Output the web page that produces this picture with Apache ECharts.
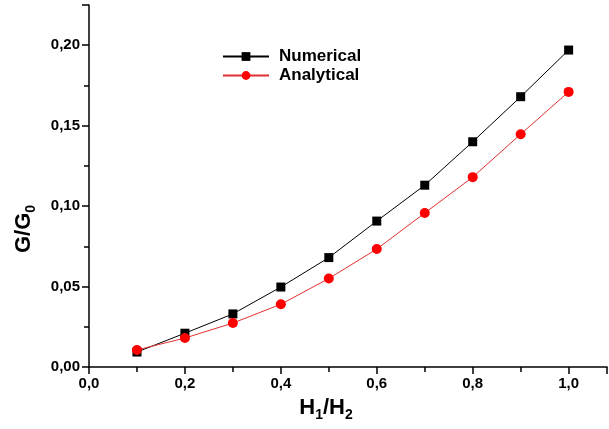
<!DOCTYPE html>
<html><head><meta charset="utf-8">
<script src="https://cdn.jsdelivr.net/npm/echarts@6/dist/echarts.min.js"></script>
<style>html,body{margin:0;padding:0;background:#fff}#c{width:609px;height:429px}</style>
</head><body><div id="c"></div>
<script>
const xValues = [0.1,0.2,0.3,0.4,0.5,0.6,0.7,0.8,0.9,1.0];
const numerical = [0.0093,0.021,0.033,0.0497,0.068,0.0907,0.113,0.140,0.168,0.197];
const analytical = [0.0106,0.018,0.0273,0.039,0.055,0.0733,0.0957,0.118,0.1447,0.171];
const fmt = (d)=> v => v.toFixed(d).replace('.', ',');
const chart = echarts.init(document.getElementById('c'), null, {renderer:'canvas'});
const font = 'Arial, "Liberation Sans", sans-serif';
chart.setOption({
  animation:false,
  backgroundColor:'#fff',
  grid:{left:89,right:2,top:5,bottom:62,containLabel:false,outerBoundsMode:'none'},
  legend:{
    orient:'vertical', left:217, top:43, itemWidth:46, itemHeight:11, itemGap:2,
    textStyle:{fontFamily:font,fontWeight:'bold',fontSize:17,color:'#000',padding:[0,0,0,5]},
    data:['Numerical','Analytical']
  },
  xAxis:{
    type:'value',min:0,max:1.08,interval:0.2,
    axisLine:{lineStyle:{color:'#000',width:1.5}},
    axisTick:{inside:false,length:7,lineStyle:{color:'#000',width:1.5}},
    minorTick:{show:true,splitNumber:2,length:5,lineStyle:{color:'#000',width:1.5}},
    splitLine:{show:false},
    axisLabel:{formatter:v=> v>1.001?'':fmt(1)(v),fontFamily:font,fontWeight:'bold',fontSize:15,color:'#000',margin:9,showMaxLabel:false},
    name:'{m|H}{s|1}{m|/H}{s|2}',nameLocation:'middle',nameGap:27,
    nameTextStyle:{padding:[0,44,0,0],rich:{m:{fontFamily:font,fontWeight:'bold',fontSize:22,color:'#000'},s:{fontFamily:font,fontWeight:'bold',fontSize:14,color:'#000',padding:[14,0,0,0]}}}
  },
  yAxis:{
    type:'value',min:0,max:0.225,interval:0.05,
    axisLine:{lineStyle:{color:'#000',width:1.5}},
    axisTick:{inside:false,length:7,lineStyle:{color:'#000',width:1.5}},
    minorTick:{show:true,splitNumber:2,length:5,lineStyle:{color:'#000',width:1.5}},
    splitLine:{show:false},
    axisLabel:{formatter:v=> v>0.2001?'':fmt(2)(v),fontFamily:font,fontWeight:'bold',fontSize:15,color:'#000',margin:9,showMaxLabel:false},
    name:'{m|G/G}{s|0}',nameLocation:'middle',nameGap:51,nameRotate:90,
    nameTextStyle:{padding:[0,86,0,0],rich:{m:{fontFamily:font,fontWeight:'bold',fontSize:22,color:'#000'},s:{fontFamily:font,fontWeight:'bold',fontSize:14,color:'#000',padding:[14,0,0,0]}}}
  },
  series:[
    {name:'Numerical',type:'line',data:xValues.map((x,i)=>[x,numerical[i]]),symbol:'rect',symbolSize:9,
     lineStyle:{color:'#000',width:1},itemStyle:{color:'#000'},smooth:false},
    {name:'Analytical',type:'line',data:xValues.map((x,i)=>[x,analytical[i]]),symbol:'circle',symbolSize:10,
     lineStyle:{color:'#e03030',width:1},itemStyle:{color:'#ff0000'},smooth:false}
  ]
});
</script></body></html>
